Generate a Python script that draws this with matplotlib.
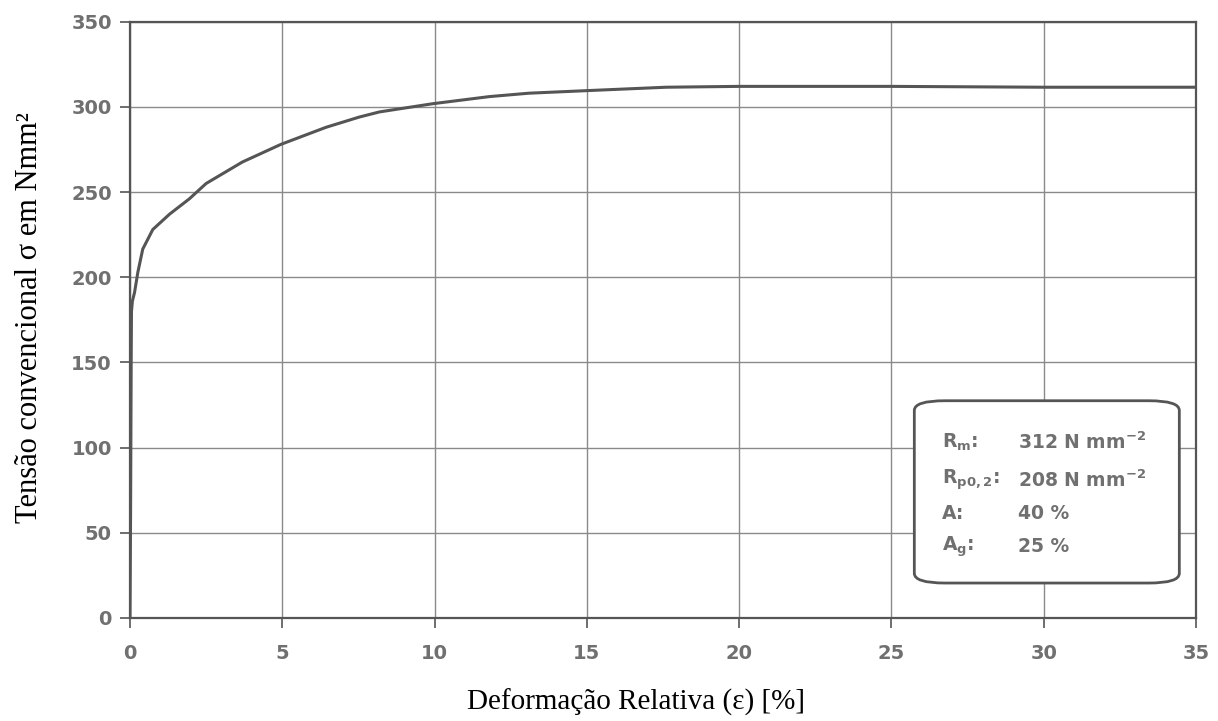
import matplotlib.pyplot as plt
from matplotlib.patches import FancyBboxPatch

# curve
strain = [0.0, 0.02, 0.04, 0.05, 0.08, 0.15, 0.26, 0.42, 0.75, 1.3, 1.95, 2.5,
          3.69, 4.96, 6.44, 7.53, 8.19, 9.93, 11.8, 13.1, 15.0, 17.6, 20.0,
          25.0, 30.0, 35.0]
stress = [0, 60, 150, 180, 186, 191, 203, 216.5, 228, 237, 246, 255,
          267.6, 278, 288, 294, 297, 301.8, 306, 308, 309.5, 311.5, 312,
          312, 311.5, 311.5]

xticks = [0, 5, 10, 15, 20, 25, 30, 35]
yticks = [0, 50, 100, 150, 200, 250, 300, 350]

box_labels = [r'R$_{\mathregular{m}}$:', r'R$_{\mathregular{p0,2}}$:', 'A:', r'A$_{\mathregular{g}}$:']
box_values = [r'312 N mm$^{\mathregular{-2}}$', r'208 N mm$^{\mathregular{-2}}$', '40 %', '25 %']

grey = '#707070'

fig = plt.figure(figsize=(12.18, 7.21), dpi=100)
ax = fig.add_axes([0.1067, 0.1429, 0.8753, 0.8271])

ax.plot(strain, stress, color='#555555', lw=2.2, zorder=3)

ax.set_xlim(0, 35)
ax.set_ylim(0, 350)
ax.set_xticks(xticks)
ax.set_yticks(yticks)
ax.grid(True, color='#8a8a8a', lw=1.0)
ax.tick_params(direction='out', length=7, width=1.2, color='#555555',
               labelsize=14, labelcolor=grey)
ax.tick_params(axis='x', pad=12)
ax.tick_params(axis='y', pad=6)
for lab in ax.get_xticklabels() + ax.get_yticklabels():
    lab.set_fontfamily('DejaVu Sans')
    lab.set_fontweight('bold')
for s in ax.spines.values():
    s.set_color('#555555')
    s.set_linewidth(1.6)

fig.text(636 / 1218, 1 - 702 / 721, 'Deformação Relativa (ε) [%]',
         family='Liberation Serif', fontsize=21, ha='center', va='center')
fig.text(30 / 1218, 1 - 318 / 721, 'Tensão convencional σ em Nmm²',
         family='Liberation Serif', fontsize=22, ha='center', va='center',
         rotation=90)

# rounded info box
box = FancyBboxPatch((26.1, 22.5), 8.0, 103, boxstyle='round,pad=0.35,rounding_size=1.0',
                     mutation_aspect=350 / 35 * 0.57, fc='white', ec='#555555',
                     lw=2.0, zorder=4)
ax.add_patch(box)
rows_y = [103, 81, 61.5, 42]
for lab, val, yy in zip(box_labels, box_values, rows_y):
    ax.text(26.65, yy, lab, fontsize=13.5, color=grey, fontweight='bold',
            family='DejaVu Sans', va='center', zorder=5)
    ax.text(29.15, yy, val, fontsize=13.5, color=grey, fontweight='bold',
            family='DejaVu Sans', va='center', zorder=5)

fig.savefig('out.png', dpi=100)
